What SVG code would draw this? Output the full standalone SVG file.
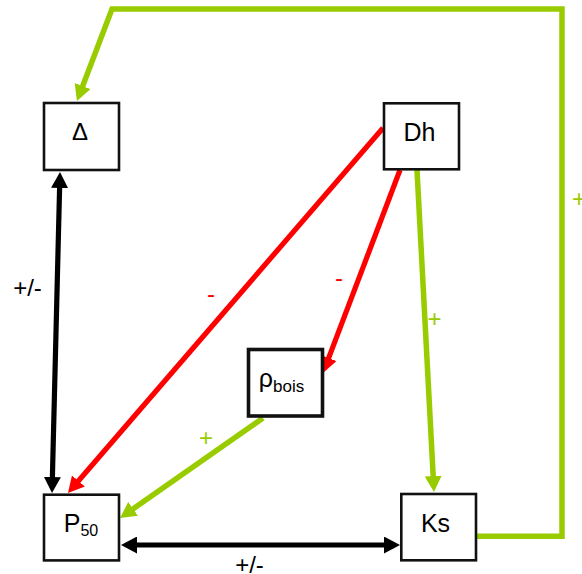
<svg xmlns="http://www.w3.org/2000/svg" width="582" height="574" viewBox="0 0 582 574">
<style>
.box{fill:#fff;stroke:#111;stroke-width:2.6}
.thick{stroke-width:3.6}
.t{font-family:"Liberation Sans",Arial,sans-serif;fill:#000;text-anchor:middle}
.g{stroke:#99CC00;stroke-width:5.5;fill:none;marker-end:url(#ag)}
.r{stroke:#FF0000;stroke-width:5.2;fill:none;marker-end:url(#ar)}
.k{stroke:#000;stroke-width:5.2;fill:none;marker-end:url(#ak);marker-start:url(#ak)}
.lg{fill:#99CC00}
.lr{fill:#FF0000}
</style>
<defs>
<marker id="ag" viewBox="0 0 16 17" refX="10" refY="8.5" markerWidth="16" markerHeight="17" markerUnits="userSpaceOnUse" orient="auto-start-reverse"><path d="M0,0 L16,8.5 L0,17 z" fill="#99CC00"/></marker>
<marker id="ar" viewBox="0 0 16 17" refX="10" refY="8.5" markerWidth="16" markerHeight="17" markerUnits="userSpaceOnUse" orient="auto-start-reverse"><path d="M0,0 L16,8.5 L0,17 z" fill="#FF0000"/></marker>
<marker id="ak" viewBox="0 0 16 17" refX="10" refY="8.5" markerWidth="16" markerHeight="17" markerUnits="userSpaceOnUse" orient="auto-start-reverse"><path d="M0,0 L16,8.5 L0,17 z" fill="#000"/></marker>
</defs>
<g id="connectors">
<polyline class="g" points="477,536.3 562,536.3 562,9 112,9 79.1,95.4"/>
<line class="k" x1="59.85" y1="178" x2="52.15" y2="487"/>
<line class="k" x1="127" y1="545" x2="394" y2="545"/>
<line class="r" x1="383" y1="128" x2="71.9" y2="488.5"/>
<line class="r" x1="400" y1="170" x2="325.1" y2="367.4"/>
<line class="g" x1="417" y1="170" x2="433.7" y2="486"/>
<line class="g" x1="263" y1="418" x2="124.9" y2="514.6"/>
<text class="t lg" x="572" y="207" style="text-anchor:start" font-size="24">+</text>
<text class="t" x="27.5" y="295.5" font-size="24">+/-</text>
<text class="t" x="249.5" y="572.5" font-size="24">+/-</text>
<text class="t lr" x="211" y="302" font-size="24">-</text>
<text class="t lr" x="339" y="286" font-size="24">-</text>
<text class="t lg" x="434.5" y="326.5" font-size="24">+</text>
<text class="t lg" x="206" y="445.5" font-size="24">+</text>
</g>
<g id="delta">
<rect class="box" x="44" y="103" width="75" height="67"/>
<text class="t" x="80" y="140" font-size="24">Δ</text>
</g>
<g id="dh">
<rect class="box" x="384" y="103.3" width="75" height="66"/>
<text class="t" x="419.5" y="141" font-size="25">Dh</text>
</g>
<g id="rho">
<rect class="box thick" x="248.5" y="349.5" width="74" height="66.5"/>
<text class="t" x="281.5" y="387" font-size="25">ρ<tspan font-size="17" dy="5">bois</tspan></text>
</g>
<g id="p50">
<rect class="box" x="44" y="494.7" width="75" height="65.7"/>
<text class="t" x="81" y="531.7" font-size="25">P<tspan font-size="16" dy="4">50</tspan></text>
</g>
<g id="ks">
<rect class="box" x="401.3" y="494" width="74.7" height="66.3"/>
<text class="t" x="435.5" y="531.7" font-size="25">Ks</text>
</g>
</svg>
